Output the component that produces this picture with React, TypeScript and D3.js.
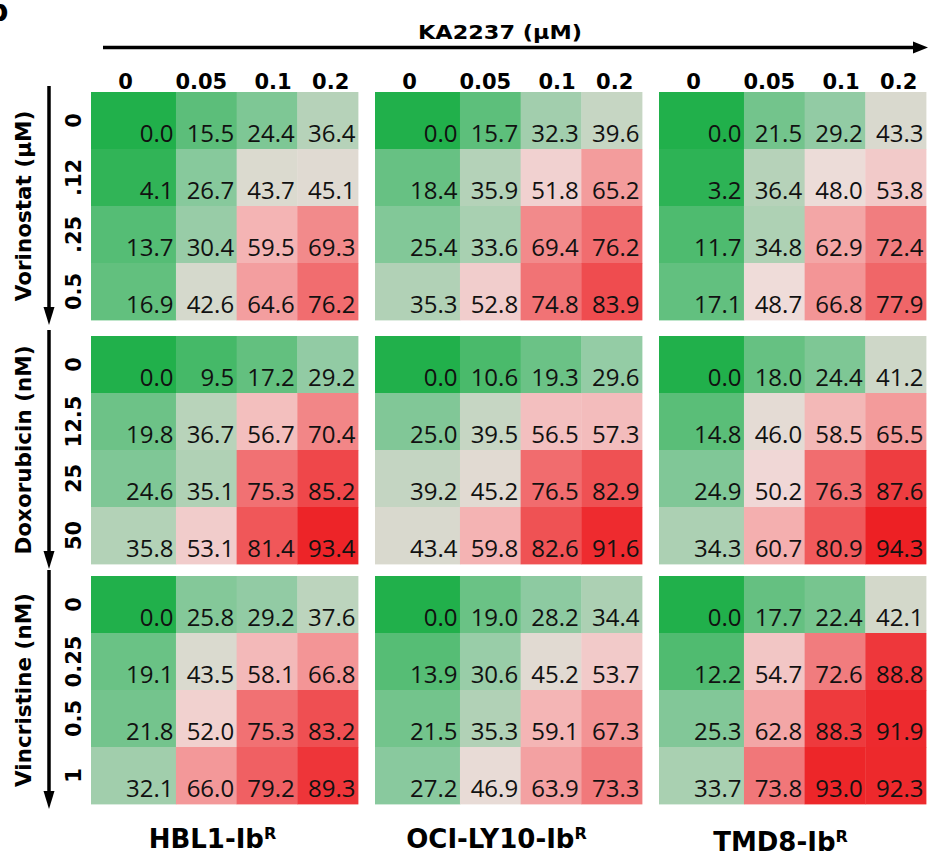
import React from "react";
import * as d3 from "d3";

const width = 929;
const height = 857;

// data
const cellLines = ["HBL1-Ib", "OCI-LY10-Ib", "TMD8-Ib"];
const kaDoses = ["0", "0.05", "0.1", "0.2"];
const drugs = ["Vorinostat (μM)", "Doxorubicin (nM)", "Vincristine (nM)"];
const drugDoses = [
  ["0", ".12", ".25", "0.5"],
  ["0", "12.5", "25", "50"],
  ["0", "0.25", "0.5", "1"],
];

// % inhibition, one 4x4 block per cell line (rows = drug dose, cols = KA2237 dose)
const vorinostat = [
  [[0.0, 15.5, 24.4, 36.4], [4.1, 26.7, 43.7, 45.1], [13.7, 30.4, 59.5, 69.3], [16.9, 42.6, 64.6, 76.2]],
  [[0.0, 15.7, 32.3, 39.6], [18.4, 35.9, 51.8, 65.2], [25.4, 33.6, 69.4, 76.2], [35.3, 52.8, 74.8, 83.9]],
  [[0.0, 21.5, 29.2, 43.3], [3.2, 36.4, 48.0, 53.8], [11.7, 34.8, 62.9, 72.4], [17.1, 48.7, 66.8, 77.9]],
];
const doxorubicin = [
  [[0.0, 9.5, 17.2, 29.2], [19.8, 36.7, 56.7, 70.4], [24.6, 35.1, 75.3, 85.2], [35.8, 53.1, 81.4, 93.4]],
  [[0.0, 10.6, 19.3, 29.6], [25.0, 39.5, 56.5, 57.3], [39.2, 45.2, 76.5, 82.9], [43.4, 59.8, 82.6, 91.6]],
  [[0.0, 18.0, 24.4, 41.2], [14.8, 46.0, 58.5, 65.5], [24.9, 50.2, 76.3, 87.6], [34.3, 60.7, 80.9, 94.3]],
];
const vincristine = [
  [[0.0, 25.8, 29.2, 37.6], [19.1, 43.5, 58.1, 66.8], [21.8, 52.0, 75.3, 83.2], [32.1, 66.0, 79.2, 89.3]],
  [[0.0, 19.0, 28.2, 34.4], [13.9, 30.6, 45.2, 53.7], [21.5, 35.3, 59.1, 67.3], [27.2, 46.9, 63.9, 73.3]],
  [[0.0, 17.7, 22.4, 42.1], [12.2, 54.7, 72.6, 88.8], [25.3, 62.8, 88.3, 91.9], [33.7, 73.8, 93.0, 92.3]],
];
const drugValues = [vorinostat, doxorubicin, vincristine];

// layout
const panelX = [91, 375, 659];
const panelY = [92, 336, 576];
const panelW = 267;
const panelH = 228;
const colWeights = [1.4, 1, 1, 1];
const headerNudge = [-8, -5, 6, 3];

const boldFont = "'DejaVu Sans', sans-serif";
const cellFont = "'Open Sans', sans-serif";

// green - neutral - red scale, stops picked from the figure
const color = d3
  .scaleLinear<string>()
  .domain([0, 28, 44, 49, 60, 94.3])
  .range(["#21b04b", "#8ccaa0", "#dcdad0", "#f0dcda", "#f4b2b2", "#ed2024"])
  .interpolate(d3.interpolateRgb)
  .clamp(true);

const colEdges = d3.cumsum([0, ...colWeights]);
const xScale = d3.scaleLinear().domain([0, d3.sum(colWeights)]).range([0, panelW]);
const yScale = d3
  .scaleBand<number>()
  .domain(d3.range(4))
  .range([0, panelH]);

const Panel = ({ values, x0, y0 }: { values: number[][]; x0: number; y0: number }) => (
  <g transform={`translate(${x0},${y0})`}>
    {values.map((row, r) =>
      row.map((v, c) => {
        const x = xScale(colEdges[c]);
        const w = xScale(colEdges[c + 1]) - x;
        const y = yScale(r)!;
        const h = yScale.bandwidth();
        return (
          <g key={`${r}-${c}`}>
            <rect x={x} y={y} width={w + 0.4} height={h + 0.4} fill={color(v)} />
            <text
              x={x + w - 2.5}
              y={y + h - 7}
              textAnchor="end"
              fill="#111"
              style={{ fontFamily: cellFont, fontSize: "24px" }}
            >
              {v.toFixed(1)}
            </text>
          </g>
        );
      })
    )}
  </g>
);

const App = () => {
  return (
    <svg
      width={width}
      height={height}
      style={{ position: "absolute", left: 0, top: 0, background: "#fff" }}
    >
      {/* cut-off panel letter */}
      <text x={-13} y={21} style={{ fontFamily: boldFont, fontWeight: 700, fontSize: "30px" }}>
        b
      </text>

      {/* KA2237 axis */}
      <text
        x={500}
        y={39}
        textAnchor="middle"
        textLength={164}
        lengthAdjust="spacingAndGlyphs"
        style={{ fontFamily: boldFont, fontWeight: 700, fontSize: "20px" }}
      >
        KA2237 (μM)
      </text>
      <line x1={103} x2={915} y1={47.5} y2={47.5} stroke="#000" strokeWidth={3.5} />
      <path d="M928,47.5 L913,41.5 L913,53.5 Z" fill="#000" />

      {/* column headers */}
      {panelX.map((px, p) =>
        kaDoses.map((d, c) => (
          <text
            key={`h${p}-${c}`}
            x={px + (xScale(colEdges[c]) + xScale(colEdges[c + 1])) / 2 + headerNudge[c]}
            y={89}
            textAnchor="middle"
            style={{ fontFamily: boldFont, fontWeight: 700, fontSize: "21px" }}
          >
            {d}
          </text>
        ))
      )}

      {drugs.map((drug, i) => {
        const py = panelY[i];
        const cy = py + panelH / 2;
        return (
          <g key={drug}>
            <text
              transform={`translate(31,${cy}) rotate(-90)`}
              textAnchor="middle"
              style={{ fontFamily: boldFont, fontWeight: 700, fontSize: "21.5px" }}
            >
              {drug}
            </text>
            <line x1={49} x2={49} y1={py - 6} y2={py + panelH - 12} stroke="#000" strokeWidth={3.5} />
            <path
              d={`M49,${py + panelH + 5} L43.5,${py + panelH - 13} L54.5,${py + panelH - 13} Z`}
              fill="#000"
            />
            {drugDoses[i].map((d, r) => (
              <text
                key={d + r}
                transform={`translate(81,${py + yScale(r)! + yScale.bandwidth() / 2}) rotate(-90)`}
                textAnchor="middle"
                style={{ fontFamily: boldFont, fontWeight: 700, fontSize: "21px" }}
              >
                {d}
              </text>
            ))}
            {cellLines.map((cl, p) => (
              <Panel key={cl} values={drugValues[i][p]} x0={panelX[p]} y0={py} />
            ))}
          </g>
        );
      })}

      {/* cell line labels */}
      {cellLines.map((cl, p) => (
        <text
          key={cl}
          x={panelX[p] + panelW / 2 - 12}
          y={p === 2 ? 851 : 848}
          textAnchor="middle"
          style={{ fontFamily: boldFont, fontWeight: 700, fontSize: "26px" }}
        >
          {cl}
          <tspan dy={-9} style={{ fontSize: "16px" }}>
            R
          </tspan>
        </text>
      ))}
    </svg>
  );
};

export default App;
